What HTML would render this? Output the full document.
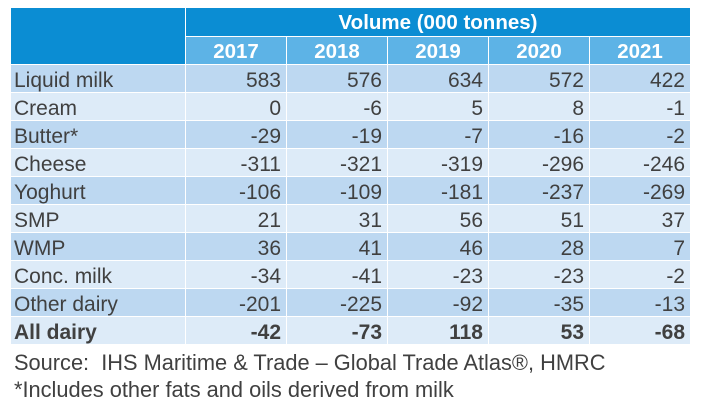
<!DOCTYPE html>
<html><head><meta charset="utf-8"><style>
html,body{margin:0;padding:0;background:#fff;}
body{width:702px;height:418px;position:relative;overflow:hidden;font-family:"Liberation Sans",Arial,sans-serif;}
.r{position:absolute;left:11px;display:flex;gap:1px;height:27px;}
.r div{height:27px;line-height:32px;font-size:21px;color:#404040;box-sizing:border-box;white-space:nowrap;overflow:visible;}
.r div:first-child{width:174px;padding-left:3px;text-align:left;}
.r div+div{width:100px;text-align:right;padding-right:5px;}
.d div{background:#bdd8f1;}
.l div{background:#ddebf8;}
.b div{font-weight:bold;}
.h0{position:absolute;left:11px;top:8px;width:174px;height:56px;background:#0b8dd3;}
.h1{position:absolute;left:186px;top:8px;width:504px;height:28px;background:#0b8dd3;color:#fff;font-weight:bold;font-size:20.5px;line-height:29px;text-align:center;}
.hy{position:absolute;top:37px;height:27px;width:100px;background:#5db3e6;color:#fff;font-weight:bold;font-size:20.5px;line-height:30px;text-align:center;}
.src{position:absolute;left:14px;font-size:21.8px;color:#404040;line-height:27px;white-space:nowrap;}
</style></head><body>
<div class="h0"></div>
<div class="h1">Volume (000 tonnes)</div>
<div class="hy" style="left:186px">2017</div>
<div class="hy" style="left:287px">2018</div>
<div class="hy" style="left:388px">2019</div>
<div class="hy" style="left:489px">2020</div>
<div class="hy" style="left:590px">2021</div>

<div class="r d" style="top:65px"><div>Liquid milk</div><div>583</div><div>576</div><div>634</div><div>572</div><div>422</div></div>
<div class="r l" style="top:93px"><div>Cream</div><div>0</div><div>-6</div><div>5</div><div>8</div><div>-1</div></div>
<div class="r d" style="top:121px"><div>Butter*</div><div>-29</div><div>-19</div><div>-7</div><div>-16</div><div>-2</div></div>
<div class="r l" style="top:149px"><div>Cheese</div><div>-311</div><div>-321</div><div>-319</div><div>-296</div><div>-246</div></div>
<div class="r d" style="top:177px"><div>Yoghurt</div><div>-106</div><div>-109</div><div>-181</div><div>-237</div><div>-269</div></div>
<div class="r l" style="top:205px"><div>SMP</div><div>21</div><div>31</div><div>56</div><div>51</div><div>37</div></div>
<div class="r d" style="top:233px"><div>WMP</div><div>36</div><div>41</div><div>46</div><div>28</div><div>7</div></div>
<div class="r l" style="top:261px"><div>Conc. milk</div><div>-34</div><div>-41</div><div>-23</div><div>-23</div><div>-2</div></div>
<div class="r d" style="top:289px"><div>Other dairy</div><div>-201</div><div>-225</div><div>-92</div><div>-35</div><div>-13</div></div>
<div class="r l b" style="top:317px"><div>All dairy</div><div>-42</div><div>-73</div><div>118</div><div>53</div><div>-68</div></div>

<div class="src" style="top:349px">Source:&nbsp; IHS Maritime &amp; Trade – Global Trade Atlas®, HMRC</div>
<div class="src" style="top:376px">*Includes other fats and oils derived from milk</div>
</body></html>
